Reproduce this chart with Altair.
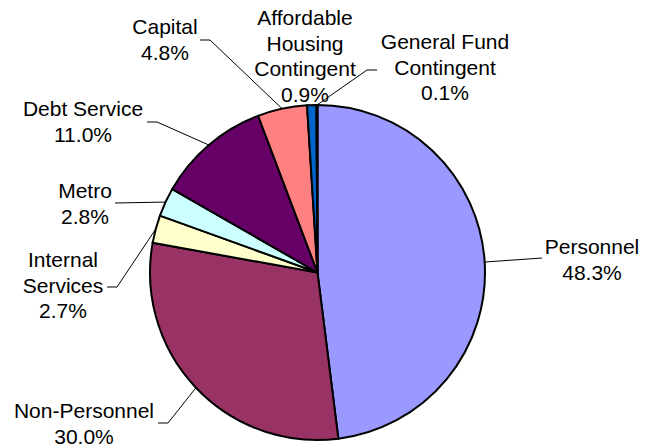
import math
import altair as alt
import pandas as pd

# ---- data ----
categories = ["Personnel", "Non-Personnel", "Internal Services", "Metro",
              "Debt Service", "Capital", "Affordable Housing Contingent",
              "General Fund Contingent"]
values = [48.3, 30.0, 2.7, 2.8, 11.0, 4.8, 0.9, 0.1]
label_names = ["Personnel", "Non-Personnel", "Internal\nServices", "Metro",
               "Debt Service", "Capital", "Affordable\nHousing\nContingent",
               "General Fund\nContingent"]

# ---- style / layout ----
colors = ["#9999FF", "#993366", "#FFFFCC", "#CCFFFF", "#660066", "#FF8080",
          "#0066CC", "#CCCCFF"]
W, H = 639, 439
OFF = 8  # page margin; scales are set up in page pixel coordinates
CX, CY, R = 317.5, 272.5, 167.5
# position of the first line of each label (middle of the line)
label_pos = [(592, 248), (84, 412), (63, 261), (85, 192), (83, 110),
             (165, 28), (305, 19), (445, 43)]
leader_pts = [[(542, 258)], [(158, 423), (168, 423)], [(107, 287), (117, 287)],
              [(115, 203)], [(147, 122), (157, 122)], [(200, 40), (210, 40)],
              None, [(377, 70), (367, 70)]]

total = sum(values)
pie_df = pd.DataFrame({"category": categories, "value": values,
                       "idx": list(range(len(values)))})

# mid-angles of slices (clockwise from 12 o'clock)
mids = []
acc = 0.0
for v in values:
    mids.append((acc + v / 2) / total * 2 * math.pi)
    acc += v

lab_rows = []
line_rows = []
for i, (c, v) in enumerate(zip(categories, values)):
    lx, ly = label_pos[i]
    lab_rows.append({"category": c, "x": lx, "y": ly,
                     "label": f"{label_names[i]}\n{v:.1f}%"})
    if leader_pts[i] is not None:
        ex = CX + R * math.sin(mids[i])
        ey = CY - R * math.cos(mids[i])
        pts = list(leader_pts[i]) + [(ex, ey)]
        for s, (px, py) in enumerate(pts):
            line_rows.append({"category": c, "seq": s, "x": px, "y": py})

lab_df = pd.DataFrame(lab_rows)
line_df = pd.DataFrame(line_rows)

xs = alt.Scale(domain=[OFF, OFF + W], nice=False, zero=False)
ys = alt.Scale(domain=[OFF, OFF + H], nice=False, zero=False, reverse=True)

pie = alt.Chart(pie_df).mark_arc(outerRadius=R, stroke="black", strokeWidth=2).encode(
    theta=alt.Theta("value:Q", stack=True),
    color=alt.Color("category:N", scale=alt.Scale(domain=categories, range=colors), legend=None),
    order=alt.Order("idx:Q"),
    x=alt.value(CX - OFF),
    y=alt.value(CY - OFF),
)

lines = alt.Chart(line_df).mark_line(color="black", strokeWidth=1).encode(
    x=alt.X("x:Q", scale=xs, axis=None),
    y=alt.Y("y:Q", scale=ys, axis=None),
    detail="category:N",
    order="seq:Q",
)

texts = alt.Chart(lab_df).mark_text(
    font="Liberation Sans", fontSize=21, lineBreak="\n", lineHeight=25.5,
    align="center", baseline="middle", color="black"
).encode(
    x=alt.X("x:Q", scale=xs, axis=None),
    y=alt.Y("y:Q", scale=ys, axis=None),
    text="label:N",
)

chart = alt.layer(lines, pie, texts).properties(
    width=W, height=H, padding=0, autosize="none"
).configure_view(stroke=None)

chart.save("out.html", embed_options={"renderer": "svg", "actions": False})
